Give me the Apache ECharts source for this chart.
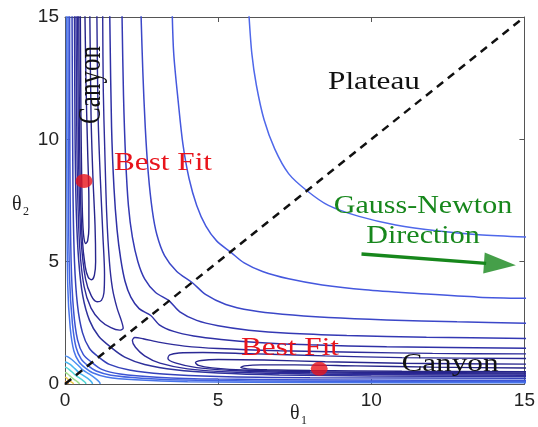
<!DOCTYPE html>
<html>
<head>
<meta charset="utf-8">
<script src="https://cdn.jsdelivr.net/npm/echarts@6/dist/echarts.min.js"></script>
<style>
  html, body { margin: 0; padding: 0; background: #fff; }
  #chart { width: 538px; height: 427px; }
</style>
</head>
<body>
<div id="chart"></div>
<script>
// tick values for both axes
const thetaTicks = [0, 5, 10, 15];

// contour lines (vertical arm only; the surface is symmetric
// in theta1 <-> theta2 so the horizontal arm is the mirror image)
// plateau-side curves: from the diagonal up to the top edge
const plateauA = [[7.9, 7.9], [7.3, 8.6], [6.85, 9.6], [6.5, 10.8], [6.25, 12.2], [6.1, 13.5], [6.0, 15.2]];
const plateauB = [[5.4, 5.4], [4.95, 5.85], [4.6, 6.45], [4.3, 7.3], [4.05, 8.4], [3.85, 9.8], [3.7, 11.5], [3.55, 13.5], [3.5, 15.2]];
const plateauC = [[4.15, 4.15], [3.65, 4.6], [3.25, 5.25], [3.0, 6.1], [2.85, 7.1], [2.72, 8.6], [2.62, 10.5], [2.54, 12.8], [2.48, 15.2]];
const plateauD = [[3.4, 3.4], [2.95, 3.75], [2.6, 4.3], [2.38, 5.0], [2.2, 6.0], [2.07, 7.3], [1.98, 9.2], [1.91, 11.8], [1.86, 15.2]];
const plateauE = [[2.8, 2.8], [2.42, 3.08], [2.15, 3.55], [1.96, 4.2], [1.82, 5.1], [1.7, 6.3], [1.6, 8.0], [1.52, 10.5], [1.46, 15.2]];

// U shaped loops round the best fit: inner branch -> tip -> outer branch
const loop1 = [[0.36, 15.2], [0.38, 11], [0.41, 8], [0.48, 5.6], [0.62, 4.0], [0.85, 3.1], [1.15, 2.6], [1.5, 2.3], [1.78, 2.2], [1.9, 2.28], [1.85, 2.55], [1.7, 3.1], [1.55, 3.9], [1.45, 5], [1.36, 7], [1.3, 9.5], [1.25, 12], [1.23, 15.2]];
const loop2 = [[0.41, 15.2], [0.43, 11], [0.46, 8], [0.53, 5.8], [0.67, 4.3], [0.86, 3.6], [1.05, 3.36], [1.19, 3.42], [1.27, 3.72], [1.29, 4.5], [1.24, 6], [1.15, 8.5], [1.08, 11], [1.04, 15.2]];
const loop3 = [[0.45, 15.2], [0.47, 11], [0.5, 8], [0.56, 6], [0.66, 4.8], [0.76, 4.36], [0.87, 4.26], [0.96, 4.45], [1.0, 5], [0.98, 6.5], [0.91, 8.5], [0.85, 11], [0.81, 15.2]];
const loop4 = [[0.5, 15.2], [0.52, 11], [0.55, 8], [0.58, 6.6], [0.62, 5.95], [0.68, 5.74], [0.74, 5.86], [0.78, 6.4], [0.78, 7.5], [0.74, 9.5], [0.69, 12], [0.65, 15.2]];

// origin-side curves running off along the theta2 axis (diagonal -> top)
const originO1 = [[1.5, 1.5], [1.1, 1.95], [0.8, 2.6], [0.58, 3.6], [0.45, 5], [0.37, 7], [0.33, 10], [0.31, 15.2]];
const originO2 = [[1.1, 1.1], [0.8, 1.45], [0.57, 2.1], [0.41, 3.2], [0.31, 5], [0.26, 8], [0.23, 15.2]];
const originO3 = [[0.88, 0.88], [0.6, 1.2], [0.41, 1.8], [0.28, 3], [0.2, 5], [0.16, 9], [0.15, 15.2]];
const originO4 = [[0.75, 0.75], [0.53, 1.02], [0.36, 1.5], [0.24, 2.5], [0.15, 4.3], [0.11, 8], [0.1, 15.2]];
const originO5 = [[0.66, 0.66], [0.46, 0.9], [0.29, 1.35], [0.17, 2.3], [0.09, 4], [0.06, 8], [0.05, 15.2]];

// closed arcs round the origin corner (diagonal -> theta2 axis)
const cornerK1 = [[0.58, 0.58], [0.4, 0.8], [0.22, 1.0], [0.08, 1.12], [0, 1.15]];
const cornerK2 = [[0.46, 0.46], [0.32, 0.63], [0.18, 0.79], [0.06, 0.88], [0, 0.9]];
const cornerK3 = [[0.35, 0.35], [0.24, 0.48], [0.13, 0.6], [0.05, 0.67], [0, 0.68]];
const cornerK4 = [[0.24, 0.24], [0.16, 0.33], [0.09, 0.41], [0.03, 0.46], [0, 0.47]];
const cornerK5 = [[0.14, 0.14], [0.09, 0.2], [0.05, 0.25], [0, 0.28]];
const cornerK6 = [[0.06, 0.06], [0.03, 0.1], [0, 0.12]];

const bestFits = [[0.62, 8.3], [8.3, 0.62]];
const diagonal = [[0, 0], [15, 15]];
const arrowShaft = [[9.68, 5.31], [13.75, 4.93]];
const arrowHead = [[14.2, 4.9]];

function mirror(pts) {
  return pts.map(p => [p[1], p[0]]);
}
// whole curve = mirrored half (reversed) + half
function fullL(half) {
  return mirror(half).reverse().concat(half.slice(1));
}

function contour(data, color, w) {
  return {
    type: 'line',
    data: data,
    showSymbol: false,
    symbol: 'none',
    smooth: 0.3,
    silent: true,
    lineStyle: { color: color, width: w || 1.3 },
    z: 2
  };
}

const series = [];
[
  [plateauA, '#4f68ea'], [plateauB, '#4558de'], [plateauC, '#3b47c8'],
  [plateauD, '#3439b4'], [plateauE, '#2f31a6'],
  [originO1, '#2f329c'], [originO2, '#3440b8'], [originO3, '#3b52d2'],
  [originO4, '#4262e0'], [originO5, '#4874ea'],
  [cornerK1, '#4c8ff2'], [cornerK2, '#47b5f0'], [cornerK3, '#52d6d6'],
  [cornerK4, '#9ddf8c'], [cornerK5, '#eecb4c'], [cornerK6, '#ef9a42']
].forEach(function (c) {
  series.push(contour(fullL(c[0]), c[1], 1.5));
});
[[loop1, '#2e2c9a'], [loop2, '#2b2994'], [loop3, '#28268d'], [loop4, '#252387']].forEach(function (c) {
  series.push(contour(c[0], c[1], 1.4));
  series.push(contour(mirror(c[0]), c[1], 1.4));
});

series.push({
  type: 'line',
  data: diagonal,
  symbol: 'none',
  lineStyle: { color: '#111', width: 2.5, type: [8, 6] },
  z: 5
});
series.push({
  type: 'scatter',
  data: bestFits,
  symbol: 'circle',
  symbolSize: [17, 14],
  itemStyle: { color: '#e8141c' },
  z: 6
});
series.push({
  type: 'line',
  data: arrowShaft,
  symbol: 'none',
  lineStyle: { color: '#17871c', width: 3.5 },
  z: 6
});
series.push({
  type: 'scatter',
  data: arrowHead,
  symbol: 'triangle',
  symbolSize: [21, 32],
  symbolRotate: -94,
  itemStyle: { color: '#17871c' },
  z: 6
});

const tickLabel = { fontFamily: 'Liberation Sans', fontSize: 19, color: '#222' };
const axisBase = {
  type: 'value', min: 0, max: 15, interval: 5,
  splitLine: { show: false },
  axisLine: { show: true, onZero: false, lineStyle: { color: '#555', width: 1 } },
  axisTick: { show: true, inside: true, length: 5, lineStyle: { color: '#555' } }
};

function txt(s, x, y, color, sx, rot) {
  const el = {
    type: 'text', x: x, y: y, z: 100,
    style: {
      text: s, font: '25px "Liberation Serif"', fill: color,
      align: 'center', verticalAlign: 'middle',
      textAlign: 'center', textVerticalAlign: 'middle'
    }
  };
  if (rot) { el.rotation = rot; el.scaleY = sx; } else { el.scaleX = sx; }
  return el;
}

function sub(s, x, y, size) {
  return {
    type: 'text', x: x, y: y, z: 100,
    style: { text: s, font: size + 'px "Liberation Serif"', fill: '#222', verticalAlign: 'middle', textVerticalAlign: 'middle' }
  };
}

const option = {
  animation: false,
  backgroundColor: '#fff',
  grid: { left: 65, right: 11, top: 17, bottom: 43 },
  xAxis: [
    Object.assign({}, axisBase, { position: 'bottom', axisLabel: Object.assign({ margin: 7 }, tickLabel) }),
    Object.assign({}, axisBase, { position: 'top', axisLabel: { show: false } })
  ],
  yAxis: [
    Object.assign({}, axisBase, { position: 'left', axisLabel: Object.assign({ margin: 6 }, tickLabel) }),
    Object.assign({}, axisBase, { position: 'right', axisLabel: { show: false } })
  ],
  series: series,
  graphic: [
    txt('Plateau', 374, 82, '#111', 1.25),
    txt('Canyon', 92, 85, '#111', 1.25, Math.PI / 2),
    txt('Best Fit', 163, 163, '#e8141c', 1.25),
    txt('Gauss-Newton', 423, 206, '#17871c', 1.2),
    txt('Direction', 423, 236, '#17871c', 1.2),
    txt('Best Fit', 290, 348, '#e8141c', 1.25),
    txt('Canyon', 450, 364, '#111', 1.25),
    sub('θ', 12, 205, 20), sub('2', 23, 212, 12),
    sub('θ', 290, 414, 20), sub('1', 301, 421, 12)
  ]
};

const chart = echarts.init(document.getElementById('chart'), null, { renderer: 'canvas' });
chart.setOption(option);
</script>
</body>
</html>
